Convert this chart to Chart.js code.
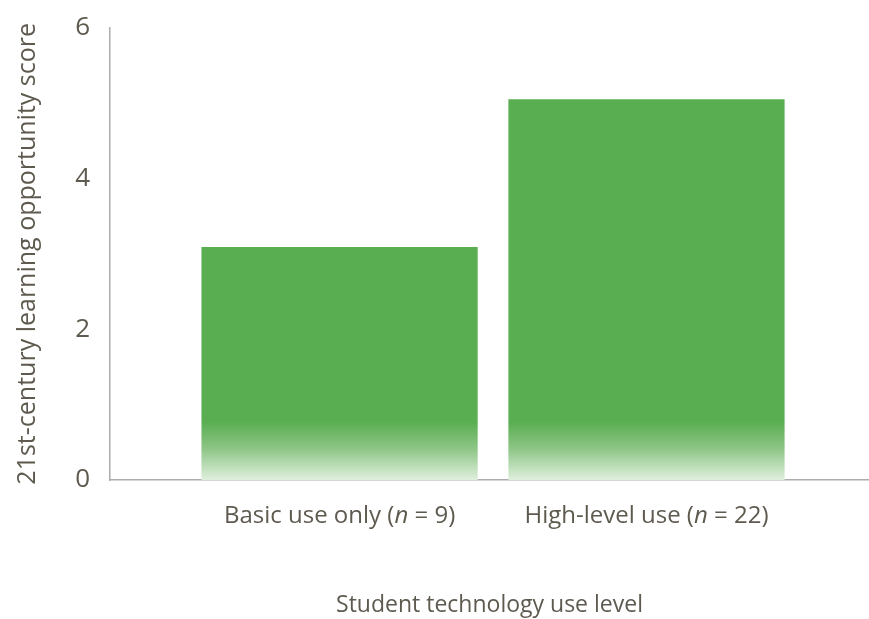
<!DOCTYPE html>
<html>
<head>
<meta charset="utf-8">
<script src="https://cdn.jsdelivr.net/npm/chart.js@4.4.1/dist/chart.umd.min.js"></script>
<style>
  html, body { margin: 0; padding: 0; background: #fff; }
  #wrap { width: 869px; height: 619px; }
</style>
</head>
<body>
<div id="wrap"><canvas id="chart--bar"></canvas></div>
<script>
const categories = ['Basic use only (n = 9)', 'High-level use (n = 22)'];
const scores = [3.09, 5.05];
const yTicks = [0, 2, 4, 6];

const textColor = '#5e5a4f';
const axisColor = '#acacac';
const fontFamily = "'Open Sans', 'Noto Sans', sans-serif";

// bars fade out near the baseline
function barFill(context) {
    const chart = context.chart;
    if (!chart.chartArea) return '#5aae52';
    const y0 = chart.scales.y.getPixelForValue(0);
    const g = chart.ctx.createLinearGradient(0, y0, 0, y0 - 58);
    g.addColorStop(0, '#e0efdd');
    g.addColorStop(0.55, '#8cc585');
    g.addColorStop(1, '#5aae52');
    return g;
}

// category labels with an italic "n"
const catLabels = {
    id: 'catLabels',
    afterDraw(chart) {
        const c = chart.ctx;
        const xs = chart.scales.x;
        const y = chart.chartArea.bottom + 36;
        const normal = '24px ' + fontFamily;
        const italic = 'italic 24px ' + fontFamily;
        c.save();
        c.fillStyle = textColor;
        c.textBaseline = 'middle';
        c.textAlign = 'left';
        categories.forEach((label, i) => {
            const parts = label.split(/(?<=\()n(?= =)/);
            c.font = normal;
            const w0 = c.measureText(parts[0]).width;
            const w2 = c.measureText(parts[1] || '').width;
            c.font = italic;
            const w1 = c.measureText('n').width;
            let x = xs.getPixelForValue(i) - (w0 + w1 + w2) / 2;
            c.font = normal;
            c.fillText(parts[0], x, y);
            x += w0;
            c.font = italic;
            c.fillText('n', x, y);
            x += w1;
            c.font = normal;
            c.fillText(parts[1] || '', x, y);
        });
        c.restore();
    }
};

const config_bar = {
    type: 'bar',
    data: {
        datasets: [{
            label: '21st-century learning opportunity score',
            data: categories.map((c, i) => ({ x: i, y: scores[i] })),
            backgroundColor: barFill,
            borderWidth: 0,
            categoryPercentage: 1,
            barPercentage: 0.9
        }]
    },
    options: {
        responsive: true,
        maintainAspectRatio: false,
        animation: false,
        layout: { padding: { top: 27, right: 0, left: 0, bottom: 0 } },
        plugins: {
            legend: { display: false },
            tooltip: { enabled: false }
        },
        scales: {
            x: {
                type: 'linear',
                min: -0.748,
                max: 1.725,
                offset: false,
                afterBuildTicks: s => { s.ticks = categories.map((c, i) => ({ value: i })); },
                afterFit: s => { s.height = 139; },
                ticks: { display: false },
                grid: { display: false },
                border: { display: true, color: axisColor, width: 1.5 },
                title: {
                    display: true,
                    text: 'Student technology use level',
                    color: textColor,
                    font: { family: fontFamily, size: 23 },
                    padding: 0
                }
            },
            y: {
                min: 0,
                max: 6,
                afterBuildTicks: s => { s.ticks = yTicks.map(v => ({ value: v })); },
                afterFit: s => { s.width = 110; },
                ticks: {
                    color: textColor,
                    font: { family: fontFamily, size: 26 },
                    padding: 12
                },
                grid: { display: false },
                border: { display: true, color: axisColor, width: 1.5 },
                title: {
                    display: true,
                    text: '21st-century learning opportunity score',
                    color: textColor,
                    font: { family: fontFamily, size: 25 },
                    padding: { top: 13, bottom: 0 }
                }
            }
        }
    },
    plugins: [catLabels]
};

var chartbar = new Chart(document.getElementById('chart--bar'), config_bar);
</script>
</body>
</html>
